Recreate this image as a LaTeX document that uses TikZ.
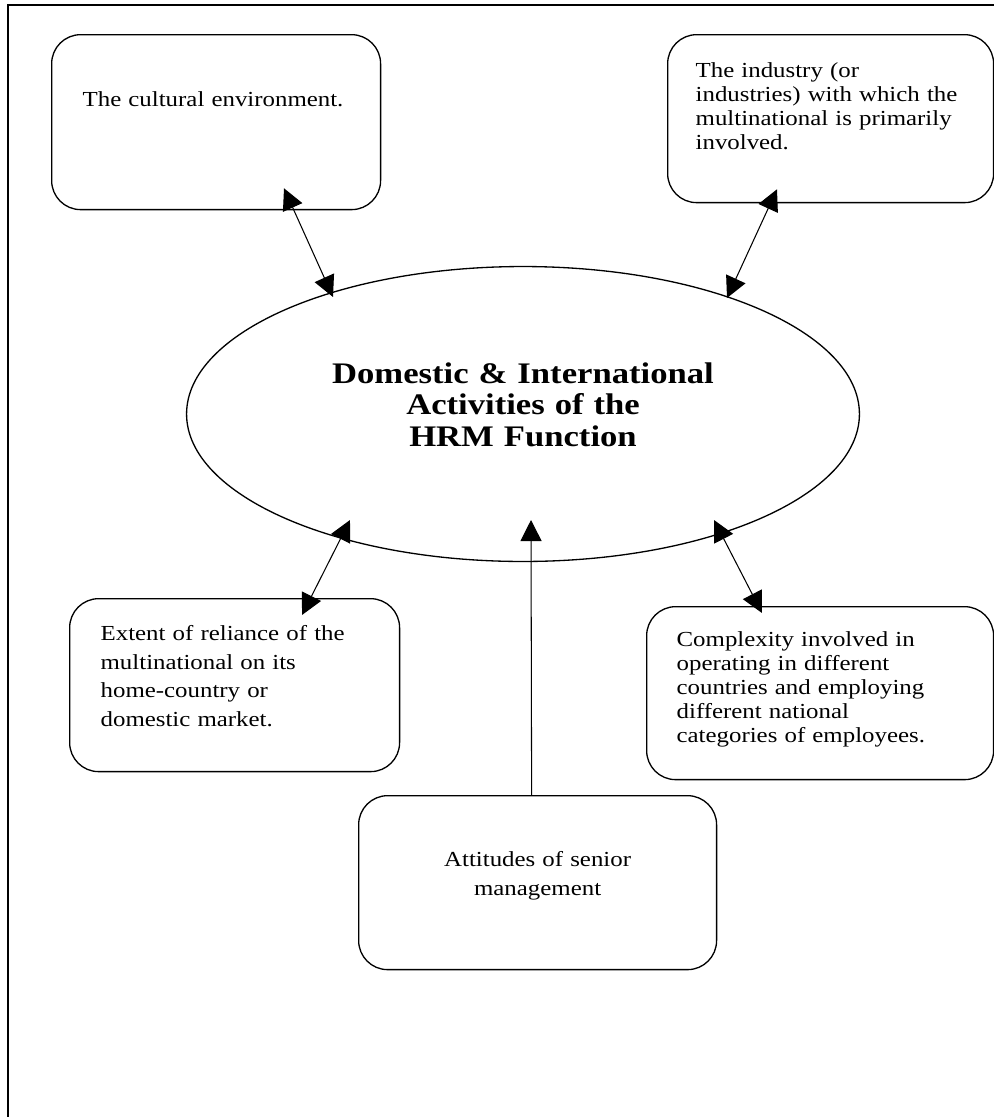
\documentclass[tikz,border=0pt]{standalone}
\usepackage{fontspec}
\setmainfont{Liberation Serif}[FakeStretch=1.16]
\usepackage{tikz}
\usetikzlibrary{math}
\usetikzlibrary{arrows.meta,shapes.geometric}

\begin{document}
\begin{tikzpicture}[x=0.02cm, y=-0.02cm]

\tikzmath{
	\R = 0.58cm;
}

\tikzset{factor box/.style={
    draw, line width=0.75pt,
    rounded corners=\R,
    anchor=north west,
    inner ysep=0pt,
    align=left,
    font=\fontsize{12.2}{13.6}\selectfont
  },
  two way/.style={<->, >={Triangle[length=12pt,width=12pt]}, line width=0.6pt},
  one way/.style={->, >={Triangle[length=12pt,width=12pt]}, line width=0.6pt}
}

\useasboundingbox (0,0) rectangle (994,1117);
\draw[line width=0.75pt] (994,5) -| (8,1117);

\node[draw, ellipse, line width=0.75pt, minimum width=13.46cm, minimum height=5.9cm,
  inner sep=0pt, align=center, text width=8cm, font=\fontsize{17}{18.1}\selectfont\bfseries,
  text height=0.4cm, text depth=1.64cm] (hrm) at (523,414)
  {Domestic \& International\\ Activities of the\\ HRM Function};

\node[factor box, inner xsep=0.62cm, text width=5.34cm, text height=1.44cm, text depth=2.06cm]
  (cult) at (51,34) {The cultural environment.};
\node[factor box, inner xsep=0.56cm, text width=5.4cm, text height=0.86cm, text depth=2.5cm]
  (ind) at (667,34) {The industry (or\\ industries) with which the\\ multinational is primarily\\ involved.};
\node[factor box, font=\fontsize{12.2}{16.3}\selectfont, inner xsep=0.62cm, text width=5.36cm,
  text height=0.84cm, text depth=2.62cm]
  (rel) at (69,598) {Extent of reliance of the\\ multinational on its\\ home-country or\\ domestic market.};
\node[factor box, inner xsep=0.6cm, text width=5.74cm, text height=0.8cm, text depth=2.66cm]
  (cmp) at (646,606) {Complexity involved in\\ operating in different\\ countries and employing\\ different national\\ categories of employees.};
\node[factor box, align=center, font=\fontsize{12.2}{16.3}\selectfont, inner xsep=0.6cm,
  text width=5.96cm, text height=1.42cm, text depth=2.06cm]
  (att) at (358,795) {Attitudes of senior\\ management};

\draw[two way] ([shift={(233,-22)}]cult.south west) -- ([shift={(-190,-117)}]hrm.center);
\draw[two way] ([shift={(110,-14)}]ind.south west) -- ([shift={(204,-116)}]hrm.center);
\draw[two way] ([shift={(233,17)}]rel.north west) -- ([shift={(-173,106)}]hrm.center);
\draw[two way] ([shift={(116,7)}]cmp.north west) -- ([shift={(191,106)}]hrm.center);
\draw[one way] ([shift={(-6,0)}]att.north) -- ([shift={(8,106)}]hrm.center);

\end{tikzpicture}
\end{document}
